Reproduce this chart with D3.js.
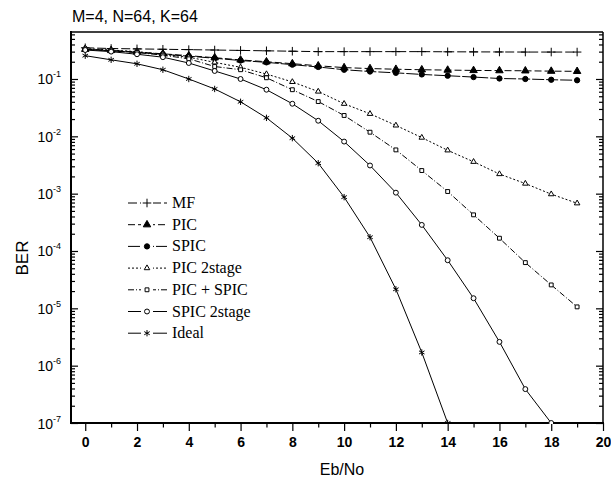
<!DOCTYPE html>
<html>
<head>
<meta charset="utf-8">
<script src="https://cdn.jsdelivr.net/npm/d3@7"></script>
<style>
body { margin: 0; background: #fff; }
svg { display: block; }
.tick line { stroke: #000; stroke-width: 1.2; }
.frame line { stroke: #000; }
.label { font-family: "Liberation Sans", Arial, sans-serif; fill: #000; }
.legend text { font-family: "Liberation Serif", "Times New Roman", serif; font-size: 16px; fill: #000; }
</style>
</head>
<body>
<div id="chart"></div>
<script>
// Eb/No values and BER series
var EB_NO = [0, 1, 2, 3, 4, 5, 6, 7, 8, 9, 10, 11, 12, 13, 14, 15, 16, 17, 18, 19];
var MF = [0.35, 0.34, 0.335, 0.33, 0.325, 0.32, 0.315, 0.31, 0.305, 0.30, 0.30, 0.30, 0.30, 0.30, 0.298, 0.297, 0.296, 0.295, 0.295, 0.295];
var PIC = [0.33, 0.315, 0.295, 0.275, 0.255, 0.235, 0.215, 0.2, 0.185, 0.17, 0.158, 0.152, 0.148, 0.145, 0.143, 0.141, 0.14, 0.139, 0.137, 0.136];
var SPIC = [0.33, 0.31, 0.29, 0.27, 0.25, 0.23, 0.21, 0.195, 0.178, 0.162, 0.145, 0.135, 0.128, 0.12, 0.114, 0.108, 0.102, 0.1, 0.097, 0.095];
var PIC_2STAGE = [0.34, 0.32, 0.3, 0.27, 0.24, 0.195, 0.16, 0.122, 0.089, 0.0605, 0.037, 0.0247, 0.0155, 0.0095, 0.0057, 0.0036, 0.0022, 0.0015, 0.00098, 0.00068];
var PIC_SPIC = [0.33, 0.31, 0.29, 0.26, 0.225, 0.165, 0.145, 0.105, 0.065, 0.0404, 0.0231, 0.0118, 0.0058, 0.00253, 0.00109, 4.27e-4, 1.67e-4, 6.27e-5, 2.56e-5, 1.06e-5];
var SPIC_2STAGE = [0.32, 0.3, 0.27, 0.24, 0.19, 0.138, 0.10, 0.065, 0.037, 0.0187, 0.0081, 0.0031, 0.00104, 2.85e-4, 6.9e-5, 1.5e-5, 2.6e-6, 3.9e-7, 1e-7];
var IDEAL = [0.255, 0.216, 0.184, 0.145, 0.10, 0.067, 0.040, 0.021, 0.0093, 0.0034, 8.7e-4, 1.74e-4, 2.15e-5, 1.7e-6, 1e-7];

var SERIES_NAMES = ['MF', 'PIC', 'SPIC', 'PIC 2stage', 'PIC + SPIC', 'SPIC 2stage', 'Ideal'];
var SERIES_VALUES = [MF, PIC, SPIC, PIC_2STAGE, PIC_SPIC, SPIC_2STAGE, IDEAL];
var X_TICKS = [0, 2, 4, 6, 8, 10, 12, 14, 16, 18, 20];
var Y_EXPONENTS = [-1, -2, -3, -4, -5, -6, -7];

var WIDTH = 611, HEIGHT = 481;
var MARGIN = {top: 32, right: 8, bottom: 58, left: 71};

// how each series looks
var STYLES = [
    {dash: '9,3', symbol: 'plus', fill: 'none'},
    {dash: '7,3', symbol: 'triangle', fill: '#000'},
    {dash: '12,2', symbol: 'circle', fill: '#000'},
    {dash: '2,2', symbol: 'triangle', fill: '#fff'},
    {dash: '6,2,1,2', symbol: 'square', fill: '#fff'},
    {dash: null, symbol: 'circle', fill: '#fff'},
    {dash: null, symbol: 'asterisk', fill: 'none'}
];

var svg = d3.select('#chart').append('svg')
    .attr('width', WIDTH)
    .attr('height', HEIGHT);

var x = d3.scaleLinear()
    .domain([-0.55, 20])
    .range([MARGIN.left, WIDTH - MARGIN.right]);
var y = d3.scaleLog()
    .domain([1e-7, 0.66])
    .range([HEIGHT - MARGIN.bottom, MARGIN.top]);

var decades = Y_EXPONENTS.map(function(e) { return Math.pow(10, e); });
var minors = [];
Y_EXPONENTS.forEach(function(e) {
    for (var m = 2; m <= 9; m++) {
        var v = m * Math.pow(10, e);
        if (v < y.domain()[1]) minors.push(v);
    }
});

// left and right axes, ticks pointing inward
svg.append('g')
    .attr('transform', 'translate(' + MARGIN.left + ',0)')
    .call(d3.axisLeft(y).tickValues(minors).tickSize(-4).tickFormat(''))
    .call(function(g) { g.select('.domain').remove(); });
var left_major = svg.append('g')
    .attr('transform', 'translate(' + MARGIN.left + ',0)')
    .call(d3.axisLeft(y).tickValues(decades).tickSize(-7).tickFormat(''));
left_major.select('.domain').remove();

svg.append('g')
    .attr('transform', 'translate(' + (WIDTH - MARGIN.right) + ',0)')
    .call(d3.axisRight(y).tickValues(minors).tickSize(-4).tickFormat(''))
    .call(function(g) { g.select('.domain').remove(); });
svg.append('g')
    .attr('transform', 'translate(' + (WIDTH - MARGIN.right) + ',0)')
    .call(d3.axisRight(y).tickValues(decades).tickSize(-7).tickFormat(''))
    .call(function(g) { g.select('.domain').remove(); });

// y labels as 10 with a superscript exponent
left_major.selectAll('.tick').each(function(d) {
    var t = d3.select(this).append('text')
        .attr('class', 'label')
        .attr('x', -10)
        .attr('y', 5)
        .attr('text-anchor', 'end')
        .style('font-size', '14px');
    t.append('tspan').text('10');
    t.append('tspan')
        .attr('dy', -7)
        .style('font-size', '9px')
        .text('-' + Math.round(-Math.log10(d)));
});

// bottom axis
var odd_ticks = d3.range(1, 20, 2);
svg.append('g')
    .attr('transform', 'translate(0,' + (HEIGHT - MARGIN.bottom) + ')')
    .call(d3.axisBottom(x).tickValues(odd_ticks).tickSize(4.5).tickFormat(''))
    .call(function(g) { g.select('.domain').remove(); });
var bottom = svg.append('g')
    .attr('transform', 'translate(0,' + (HEIGHT - MARGIN.bottom) + ')')
    .call(d3.axisBottom(x).tickValues(X_TICKS).tickSize(8).tickPadding(6));
bottom.select('.domain').remove();
bottom.selectAll('text')
    .attr('class', 'label')
    .style('font-size', '14px')
    .style('font-family', '"Liberation Sans", Arial, sans-serif')
    .style('font-weight', 'bold');

// frame
var frame = svg.append('g').attr('class', 'frame');
var x0 = MARGIN.left, x1 = WIDTH - MARGIN.right;
var y0 = MARGIN.top, y1 = HEIGHT - MARGIN.bottom;
frame.append('line').attr('x1', x0).attr('x2', x0).attr('y1', y0 - 1).attr('y2', y1 + 1).attr('stroke-width', 2);
frame.append('line').attr('x1', x0 - 1).attr('x2', x1 + 1).attr('y1', y1).attr('y2', y1).attr('stroke-width', 2);
frame.append('line').attr('x1', x0).attr('x2', x1).attr('y1', y0).attr('y2', y0).attr('stroke-width', 1.5);
frame.append('line').attr('x1', x1).attr('x2', x1).attr('y1', y0).attr('y2', y1).attr('stroke-width', 1.5);

// symbols
function symbol_path(kind, filled) {
    var type, size;
    if (kind === 'plus') { type = d3.symbolPlus || d3.symbolCross; size = 26; }
    else if (kind === 'asterisk') { type = d3.symbolAsterisk || d3.symbolStar; size = 28; }
    else if (kind === 'triangle') { type = filled ? d3.symbolTriangle : (d3.symbolTriangle2 || d3.symbolTriangle); size = filled ? 24 : 22; }
    else if (kind === 'square') { type = d3.symbolSquare2 || d3.symbolSquare; size = 19; }
    else { type = d3.symbolCircle; size = filled ? 22 : 19; }
    return d3.symbol().type(type).size(size)();
}

function draw_marker(g, style, cx, cy) {
    var filled = style.fill === '#000';
    g.append('path')
        .attr('d', symbol_path(style.symbol, filled))
        .attr('transform', 'translate(' + cx + ',' + cy + ')')
        .attr('fill', style.fill)
        .attr('stroke', '#000')
        .attr('stroke-width', 1);
}

svg.append('clipPath').attr('id', 'plot-clip')
    .append('rect')
    .attr('x', x0).attr('y', y0)
    .attr('width', x1 - x0).attr('height', y1 - y0 + 1);

var line = d3.line()
    .x(function(d) { return x(d.x); })
    .y(function(d) { return y(d.y); });

var plot = svg.append('g').attr('clip-path', 'url(#plot-clip)');
SERIES_VALUES.forEach(function(values, i) {
    var style = STYLES[i];
    var pts = values.map(function(v, j) { return {x: EB_NO[j], y: v}; });
    plot.append('path')
        .datum(pts)
        .attr('d', line)
        .attr('fill', 'none')
        .attr('stroke', '#000')
        .attr('stroke-width', 1)
        .attr('stroke-dasharray', style.dash);
    var g = plot.append('g');
    pts.forEach(function(p) { draw_marker(g, style, x(p.x), y(p.y)); });
});

// legend
var legend = svg.append('g').attr('class', 'legend');
SERIES_NAMES.forEach(function(name, i) {
    var style = STYLES[i];
    var ly = 203 + i * 21.7;
    legend.append('line')
        .attr('x1', 128).attr('x2', 167)
        .attr('y1', ly).attr('y2', ly)
        .attr('stroke', '#000')
        .attr('stroke-width', 1)
        .attr('stroke-dasharray', style.dash);
    legend.append('rect')
        .attr('x', 141).attr('y', ly - 5).attr('width', 12).attr('height', 10)
        .attr('fill', '#fff');
    draw_marker(legend, style, 147, ly);
    legend.append('text')
        .attr('x', 172)
        .attr('y', ly + 5)
        .text(name);
});

// titles
svg.append('text')
    .attr('class', 'label')
    .attr('x', 72)
    .attr('y', 22)
    .style('font-size', '16px')
    .text('M=4, N=64, K=64');
svg.append('text')
    .attr('class', 'label')
    .attr('transform', 'translate(28,258) rotate(-90)')
    .attr('text-anchor', 'middle')
    .style('font-size', '17px')
    .text('BER');
svg.append('text')
    .attr('class', 'label')
    .attr('x', 342)
    .attr('y', 475)
    .attr('text-anchor', 'middle')
    .style('font-size', '16px')
    .text('Eb/No');
</script>
</body>
</html>
